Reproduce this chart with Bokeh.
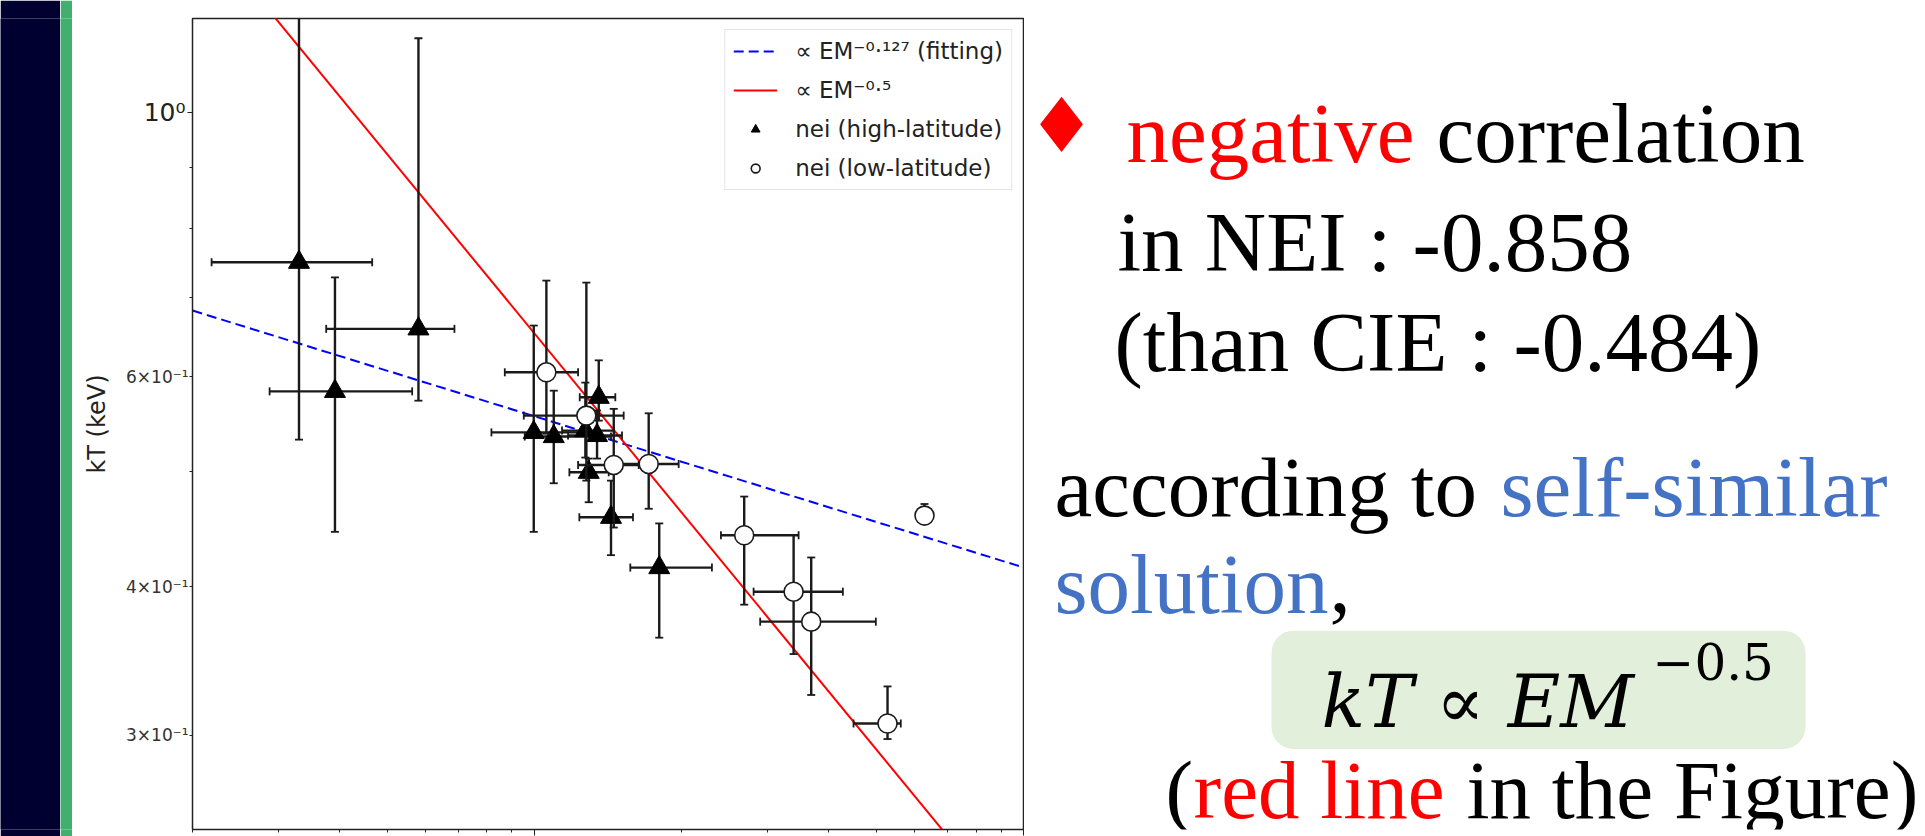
import math
from bokeh.plotting import figure
from bokeh.models import (Range1d, FixedTicker, CustomJSTickFormatter, LogAxis, Legend,
                          LegendItem, Label, BoxAnnotation)
from bokeh.layouts import row
from bokeh.embed import file_html
from bokeh.resources import INLINE

# ---------------- data (EM, kT in keV) ----------------
# nei (high-latitude)
hi_em    = [0.003302, 0.003911, 0.005794, 0.00997, 0.010955, 0.01354, 0.012713, 0.013431, 0.012916, 0.014344, 0.0180]
hi_em_lo = [0.002188, 0.002875, 0.003753, 0.008169, 0.009558, 0.01238, 0.011391, 0.011718, 0.011791, 0.012357, 0.015708]
hi_em_hi = [0.00466, 0.005625, 0.006864, 0.012933, 0.014344, 0.014638, 0.014548, 0.015107, 0.014191, 0.015907, 0.023068]
hi_kt    = [0.7489, 0.5834, 0.6584, 0.5389, 0.5346, 0.5768, 0.5408, 0.5357, 0.4989, 0.4573, 0.4149]
hi_kt_lo = [0.5314, 0.4446, 0.5730, 0.4446, 0.4884, 0.5513, 0.5133, 0.5123, 0.4708, 0.4250, 0.3623]
hi_kt_hi = [1.5, 0.7273, 1.155, 0.6626, 0.5842, 0.6195, 0.5934, 0.5622, 0.5123, 0.4909, 0.4519]

# nei (low-latitude)
lo_em    = [0.010581, 0.012773, 0.01453, 0.017129, 0.026853, 0.033884, 0.036813, 0.052723, 0.062748]
lo_em_lo = [0.0087, 0.009513, 0.012284, 0.014414, 0.024066, 0.028066, 0.02895, 0.044924, 0.0622]
lo_em_hi = [0.012284, 0.015226, 0.01634, 0.019724, 0.034689, 0.042727, 0.049898, 0.056118, 0.0633]
lo_kt    = [0.6053, 0.5567, 0.5060, 0.5070, 0.4417, 0.3960, 0.3737, 0.3069, 0.4588]
lo_kt_lo = [0.5375, 0.4909, 0.4483, 0.4649, 0.3862, 0.3510, 0.3243, 0.2978, 0.4526]
lo_kt_hi = [0.7228, 0.7200, 0.5640, 0.5592, 0.4760, 0.4420, 0.4231, 0.3297, 0.4692]

# power-law models kT = norm * EM^index
fit_norm, fit_index = 0.3098, -0.127
ss_norm, ss_index = 0.06527, -0.5
model_em = [0.002, 0.1]

# axes
x_limits = (0.002, 0.1)
y_limits = (0.25, 1.2)
xtick_major = [0.01, 0.1]
xtick_minor = [0.002, 0.003, 0.004, 0.005, 0.006, 0.007, 0.008, 0.009,
               0.02, 0.03, 0.04, 0.05, 0.06, 0.07, 0.08, 0.09]
ytick_major = [1.0]
ytick_major_labels = ["10\u2070"]
ytick_minor = [0.3, 0.4, 0.5, 0.6, 0.7, 0.8, 0.9]
ytick_sub = [0.3, 0.4, 0.6]
ytick_sub_labels = ["3\u00d710\u207b\u00b9", "4\u00d710\u207b\u00b9", "6\u00d710\u207b\u00b9"]

legend_labels = ["\u221d EM\u207b\u2070\u00b7\u00b9\u00b2\u2077 (fitting)", "\u221d EM\u207b\u2070\u00b7\u2075",
                 "nei (high-latitude)", "nei (low-latitude)"]

FONT = "DejaVu Sans"
INK = "#222222"
H = 836

fmt_code = ("const i = tv.findIndex(t => Math.abs(t - tick) <= 1e-6 * Math.abs(t));"
            "return i >= 0 ? tl[i] : '';")

# ---------------- side bands ----------------
def band(w, color):
    f = figure(width=w, height=H, toolbar_location=None, output_backend="svg",
               x_range=Range1d(0, 1), y_range=Range1d(0, 1), min_border=0,
               background_fill_color=color, border_fill_color=color, outline_line_color=None)
    f.axis.visible = False
    f.grid.visible = False
    return f

navy = band(60, "#000030")
green = band(12, "#41B06E")

# ---------------- main plot ----------------
p = figure(width=952, height=H, x_axis_type="log", y_axis_type="log",
           x_range=Range1d(*x_limits), y_range=Range1d(*y_limits),
           toolbar_location=None, output_backend="svg",
           min_border_left=120, min_border_right=1, min_border_top=18, min_border_bottom=7,
           background_fill_color="white", border_fill_color="white")
p.grid.visible = False
p.outline_line_color = INK
p.outline_line_width = 1.5

xax = p.xaxis[0]
xax.ticker = FixedTicker(ticks=xtick_major, minor_ticks=xtick_minor)
xax.formatter = CustomJSTickFormatter(code="return '';")
xax.major_label_text_font_size = "1px"
xax.major_label_standoff = 0
xax.major_tick_in = 0
xax.major_tick_out = 6
xax.minor_tick_in = 0
xax.minor_tick_out = 3
xax.axis_line_color = INK
xax.major_tick_line_color = INK
xax.minor_tick_line_color = INK

yax = p.yaxis[0]
yax.ticker = FixedTicker(ticks=ytick_major, minor_ticks=ytick_minor)
yax.formatter = CustomJSTickFormatter(args=dict(tv=ytick_major, tl=ytick_major_labels), code=fmt_code)
yax.major_label_text_font = FONT
yax.major_label_text_font_size = "25px"
yax.major_label_text_color = INK
yax.major_label_standoff = 2
yax.major_tick_in = 0
yax.major_tick_out = 5
yax.minor_tick_in = 0
yax.minor_tick_out = 3
yax.axis_line_color = INK
yax.major_tick_line_color = INK
yax.minor_tick_line_color = INK

ax2 = LogAxis(ticker=FixedTicker(ticks=ytick_sub),
              formatter=CustomJSTickFormatter(args=dict(tv=ytick_sub, tl=ytick_sub_labels), code=fmt_code),
              axis_line_color=None, major_tick_line_color=None, minor_tick_line_color=None,
              major_tick_in=0, major_tick_out=0, minor_tick_in=0, minor_tick_out=0,
              major_label_text_font=FONT, major_label_text_font_size="17px",
              major_label_text_color="#333333", major_label_standoff=-48,
              axis_label="kT (keV)", axis_label_text_font=FONT, axis_label_text_font_size="24px",
              axis_label_text_font_style="normal", axis_label_text_color=INK,
              axis_label_standoff=12)
p.add_layout(ax2, "left")

# model lines
blue = p.line(model_em, [fit_norm * e ** fit_index for e in model_em],
              line_color="#0000FF", line_width=2, line_dash="10 5")
red = p.line(model_em, [ss_norm * e ** ss_index for e in model_em],
             line_color="#FF0000", line_width=2)

BAR = "#1a1a1a"


def errorbars(em, em_lo, em_hi, kt, kt_lo, kt_hi):
    p.segment(x0=em, y0=kt_lo, x1=em, y1=kt_hi, line_color=BAR, line_width=2.4)
    p.segment(x0=em_lo, y0=kt, x1=em_hi, y1=kt, line_color=BAR, line_width=2.4)
    p.scatter(x=em + em, y=kt_lo + kt_hi, marker="dash", size=8,
              line_color=BAR, line_width=1.8)
    p.scatter(x=em_lo + em_hi, y=kt + kt, marker="dash", size=8, angle=math.pi / 2,
              line_color=BAR, line_width=1.8)


errorbars(hi_em, hi_em_lo, hi_em_hi, hi_kt, hi_kt_lo, hi_kt_hi)
tri = p.scatter(x=hi_em, y=hi_kt, marker="triangle", size=21,
                fill_color="black", line_color="black", line_width=1)
errorbars(lo_em, lo_em_lo, lo_em_hi, lo_kt, lo_kt_lo, lo_kt_hi)
circ = p.scatter(x=lo_em, y=lo_kt, marker="circle", size=19,
                 fill_color="white", line_color=BAR, line_width=1.6)

legend = Legend(items=[LegendItem(label=legend_labels[0], renderers=[blue]),
                       LegendItem(label=legend_labels[1], renderers=[red]),
                       LegendItem(label=legend_labels[2], renderers=[tri]),
                       LegendItem(label=legend_labels[3], renderers=[circ])],
                location="top_right")
legend.label_text_font = FONT
legend.label_text_font_size = "23px"
legend.label_text_color = INK
legend.border_line_color = "#cccccc"
legend.border_line_width = 1
legend.background_fill_alpha = 0.85
legend.glyph_width = 44
legend.glyph_height = 22
legend.label_height = 22
legend.label_standoff = 18
legend.spacing = 13
legend.padding = 8
legend.margin = 11
p.add_layout(legend)

# ---------------- slide text ----------------
t = figure(width=901, height=H, toolbar_location=None, output_backend="svg",
           x_range=Range1d(1024, 1925), y_range=Range1d(836, 0), min_border=0,
           background_fill_color="white", border_fill_color="white", outline_line_color=None)
t.axis.visible = False
t.grid.visible = False

t.add_layout(BoxAnnotation(left=1271, right=1805, top=631, bottom=753,
                           fill_color="#E2EFDA", fill_alpha=1, line_color=None, border_radius=22))

SERIF = "Liberation Serif"
RED = "#FF0000"
BLUE = "#4472C4"
BIG = "85px"


def txt(x, y, s, color="black", font=SERIF, size=BIG, style="normal",
        align="left", baseline="alphabetic"):
    t.add_layout(Label(x=x, y=y, text=s, text_color=color, text_font=font,
                       text_font_size=size, text_font_style=style,
                       text_align=align, text_baseline=baseline))


txt(1061, 110, "\u2666", color=RED, font=FONT, size="76px", align="center", baseline="middle")
txt(1126, 118, "negative", color=RED)
txt(1436, 118, "correlation")
txt(1117, 230, "in NEI : -0.858")
txt(1114, 333, "(than CIE : -0.484)")
txt(1054, 483, "according to")
txt(1500, 483, "self-similar", color=BLUE)
txt(1054, 583, "solution", color=BLUE)
txt(1329, 583, ",")
txt(1321, 705, "kT \u221d EM", font="DejaVu Serif", size="72px", style="italic")
txt(1652, 663, "\u22120.5", font="DejaVu Serif", size="50px")
txt(1165, 795, "(", size="83px")
txt(1193, 795, "red line", color=RED, size="83px")
txt(1466, 795, "in the Figure)", size="83px")

layout = row(navy, green, p, t, spacing=0)
open("out.html", "w").write(file_html(layout, INLINE))
